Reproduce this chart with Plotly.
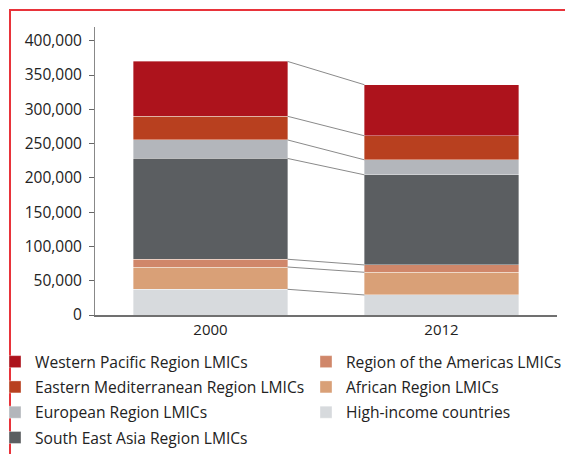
import plotly.graph_objects as go

years = ["2000", "2012"]
x_pos = [0, 1]

# stacked bottom -> top
series_names = [
    "High-income countries",
    "African Region LMICs",
    "Region of the Americas LMICs",
    "South East Asia Region LMICs",
    "European Region LMICs",
    "Eastern Mediterranean Region LMICs",
    "Western Pacific Region LMICs",
]
high_income = [37500, 29200]
african = [32500, 33100]
americas = [11300, 10700]
south_east_asia = [147000, 131400]
european = [27000, 21900]
eastern_med = [34500, 35000]
western_pacific = [80000, 74500]

series_values = [high_income, african, americas, south_east_asia,
                 european, eastern_med, western_pacific]
colors = ["#d7dadd", "#d9a077", "#d0876a", "#5b5e61",
          "#b3b6bb", "#b8401f", "#ad131c"]

left_legend = {"Western Pacific Region LMICs": 1,
               "Eastern Mediterranean Region LMICs": 2,
               "European Region LMICs": 3,
               "South East Asia Region LMICs": 4}
right_legend = {"Region of the Americas LMICs": 1,
                "African Region LMICs": 2,
                "High-income countries": 3}

BAR_W = 0.667
fig = go.Figure()

for name, vals, col in zip(series_names, series_values, colors):
    if name in left_legend:
        lg, rank = "legend", left_legend[name]
    else:
        lg, rank = "legend2", right_legend[name]
    fig.add_trace(go.Bar(
        x=x_pos, y=vals, name=name, width=BAR_W,
        marker=dict(color=col, line=dict(color="rgba(255,255,255,0.6)", width=0.6)),
        legend=lg, legendrank=rank, legendgroup=name,
    ))

# connector lines between cumulative boundaries
cum = [0, 0]
for vals in series_values:
    cum = [cum[0] + vals[0], cum[1] + vals[1]]
    fig.add_trace(go.Scatter(
        x=[x_pos[0] + BAR_W / 2, x_pos[1] - BAR_W / 2], y=cum,
        mode="lines", line=dict(color="#8a8a8a", width=1),
        showlegend=False, hoverinfo="skip",
    ))

# red frame
L, R, T, B = 95, 557, 27, 315
W, H = 565, 454
def px(xp):
    return (xp - L) / (R - L)
def py(yp):
    return (B - yp) / (B - T)

fig.add_shape(type="line", xref="paper", yref="paper",
              x0=px(10), x1=px(10), y0=py(9.5), y1=py(470),
              line=dict(color="#e8333a", width=2))
fig.add_shape(type="line", xref="paper", yref="paper",
              x0=px(9), x1=px(580), y0=py(10), y1=py(10),
              line=dict(color="#e8333a", width=2))

font_fam = "Open Sans"
LEG_FONT = 15.6
fig.update_layout(
    width=W, height=H,
    margin=dict(l=L, r=W - R, t=T, b=H - B, autoexpand=False),
    paper_bgcolor="white", plot_bgcolor="white",
    barmode="stack",
    font=dict(family=font_fam, size=14, color="#222222"),
    xaxis=dict(range=[-0.5, 1.5], tickvals=x_pos, ticktext=years,
               showgrid=False, zeroline=False, showline=True,
               linecolor="#707070", linewidth=1.5, ticks="",
               tickfont=dict(size=15, color="#222222")),
    yaxis=dict(range=[0, 420000], tickvals=list(range(0, 400001, 50000)),
               tickformat=",d", showgrid=False, zeroline=False,
               showline=True, linecolor="#888888", linewidth=1,
               ticks="outside", ticklen=5, tickcolor="#666666",
               ticklabelstandoff=4,
               tickfont=dict(size=15.5, color="#222222")),
    legend=dict(x=px(-5), y=py(345), xanchor="left", yanchor="top",
                traceorder="grouped", font=dict(size=LEG_FONT, color="#222222"),
                bgcolor="rgba(0,0,0,0)", tracegroupgap=2),
    legend2=dict(x=px(306), y=py(345), xanchor="left", yanchor="top",
                 traceorder="grouped", font=dict(size=LEG_FONT, color="#222222"),
                 bgcolor="rgba(0,0,0,0)", tracegroupgap=2),
    showlegend=True,
)

fig.write_html("out.html", config={"displayModeBar": False},
               post_script="document.body.style.margin='0';document.body.style.overflow='hidden';")
